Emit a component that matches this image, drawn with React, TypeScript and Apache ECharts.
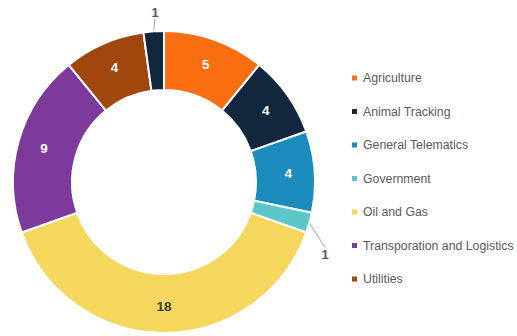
import React, { useEffect, useRef } from "react";
import * as echarts from "echarts";

const categories = [
  "Agriculture",
  "Animal Tracking",
  "General Telematics",
  "Government",
  "Oil and Gas",
  "Transporation and Logistics",
  "Utilities",
  "Other",
];
const values = [5, 4, 4, 1, 18, 9, 4, 1];
const colors = ["#FA6E12", "#12263D", "#1C8BBE", "#5DC6C8", "#F4D75C", "#7D3A9A", "#A1470E", "#12263D"];
const legendNames = categories.slice(0, 7);

export default function App() {
  const ref = useRef<HTMLDivElement>(null);
  useEffect(() => {
    const chart = echarts.init(ref.current!, null, { renderer: "svg" });
    const data = values.map((v, i) => {
      const item: any = {
        name: categories[i],
        value: v,
        itemStyle: { color: colors[i] },
      };
      if (v === 1) {
        item.label = {
          position: "outside",
          color: "#595959",
          fontWeight: "bold",
          fontSize: 13,
        };
        item.labelLine = {
          show: true,
          length: 10,
          length2: 0,
          lineStyle: { color: "#A6A6A6", width: 1 },
        };
      } else if (i === 4) {
        item.label = { color: "#404040" };
      }
      return item;
    });
    chart.setOption({
      animation: false,
      legend: {
        data: legendNames,
        orient: "vertical",
        left: 345,
        top: 67,
        itemWidth: 7,
        itemHeight: 7,
        itemGap: 21.5,
        icon: "rect",
        textStyle: { color: "#595959", fontSize: 12.3, fontFamily: "Liberation Sans" },
      },
      series: [
        {
          type: "pie",
          center: [164, 182],
          radius: [92, 151],
          startAngle: 90,
          clockwise: true,
          avoidLabelOverlap: false,
          itemStyle: { borderColor: "#ffffff", borderWidth: 2 },
          label: {
            show: true,
            position: "inside",
            formatter: "{c}",
            color: "#ffffff",
            fontWeight: "bold",
            fontSize: 13.5,
            fontFamily: "Liberation Sans",
          },
          labelLine: { show: false },
          labelLayout: (p: any) => {
            if (p.dataIndex === 7) return { x: 155, y: 12, align: "center", verticalAlign: "middle" };
            if (p.dataIndex === 3) return { x: 325, y: 254, align: "center", verticalAlign: "middle" };
            return {};
          },
          data,
        },
      ],
    });
    return () => chart.dispose();
  }, []);
  return <div ref={ref} style={{ width: 517, height: 336, position: "absolute", left: 0, top: 0 }} />;
}
